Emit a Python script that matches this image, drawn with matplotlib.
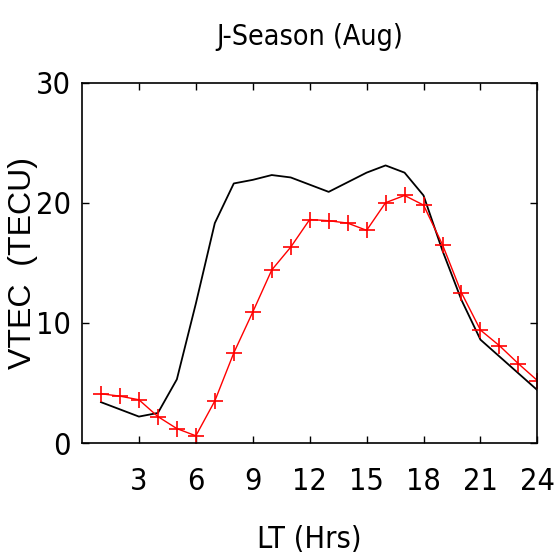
import matplotlib
matplotlib.use("Agg")
import matplotlib.pyplot as plt
from matplotlib import font_manager

# local time (hours)
hours = list(range(1, 25))

# model VTEC (black line)
model_vtec = [3.4, 2.8, 2.2, 2.5, 5.3, 11.6, 18.3, 21.6, 21.9, 22.3, 22.1, 21.5,
              20.9, 21.7, 22.5, 23.1, 22.5, 20.6, 16.0, 11.9, 8.6, 7.2, 5.8, 4.4]

# observed VTEC (red line with + markers)
obs_vtec = [4.1, 3.9, 3.6, 2.2, 1.2, 0.6, 3.5, 7.5, 10.9, 14.4, 16.3, 18.6,
            18.5, 18.3, 17.7, 20.0, 20.6, 19.8, 16.5, 12.5, 9.4, 8.1, 6.6, 5.2]

xticks = [3, 6, 9, 12, 15, 18, 21, 24]
yticks = [0, 10, 20, 30]

# use a condensed face if one is installed
cond = [f for f in font_manager.fontManager.ttflist
        if f.stretch in ("condensed", "semi-condensed", 300, 400)
        or "Condensed" in f.fname or "Narrow" in f.name]
if cond:
    narrow = dict(family=cond[0].name, stretch=cond[0].stretch)
else:
    narrow = dict(family="Liberation Sans")

fig = plt.figure(figsize=(5.54, 5.56), dpi=100)
ax = fig.add_axes([0.148, 0.2032, 0.822, 0.6484])

ax.plot(hours, model_vtec, color="black", linewidth=1.3)
ax.plot(hours, obs_vtec, color="red", linewidth=1.0, marker="+",
        markersize=12, markeredgewidth=1.2)

ax.set_xlim(0, 24)
ax.set_ylim(0, 30)
ax.set_xticks(xticks)
ax.set_yticks(yticks)
ax.tick_params(direction="in", length=5, width=1, top=True, right=True,
               labelsize=22)
ax.tick_params(axis="x", pad=17)
ax.tick_params(axis="y", pad=8)
for lbl in ax.get_xticklabels() + ax.get_yticklabels():
    lbl.set_fontfamily(narrow["family"])
    if "stretch" in narrow:
        lbl.set_fontstretch(narrow["stretch"])

ax.set_title("J-Season (Aug)", fontsize=20.5, pad=27, **narrow)
ax.set_xlabel("LT (Hrs)", fontsize=22, labelpad=21, **narrow)
ax.set_ylabel("VTEC  (TECU)", family="Liberation Sans", fontsize=23)
ax.yaxis.set_label_coords(-0.096, 0.5)
for sp in ax.spines.values():
    sp.set_linewidth(1.2)

fig.savefig("out.png", dpi=100)
